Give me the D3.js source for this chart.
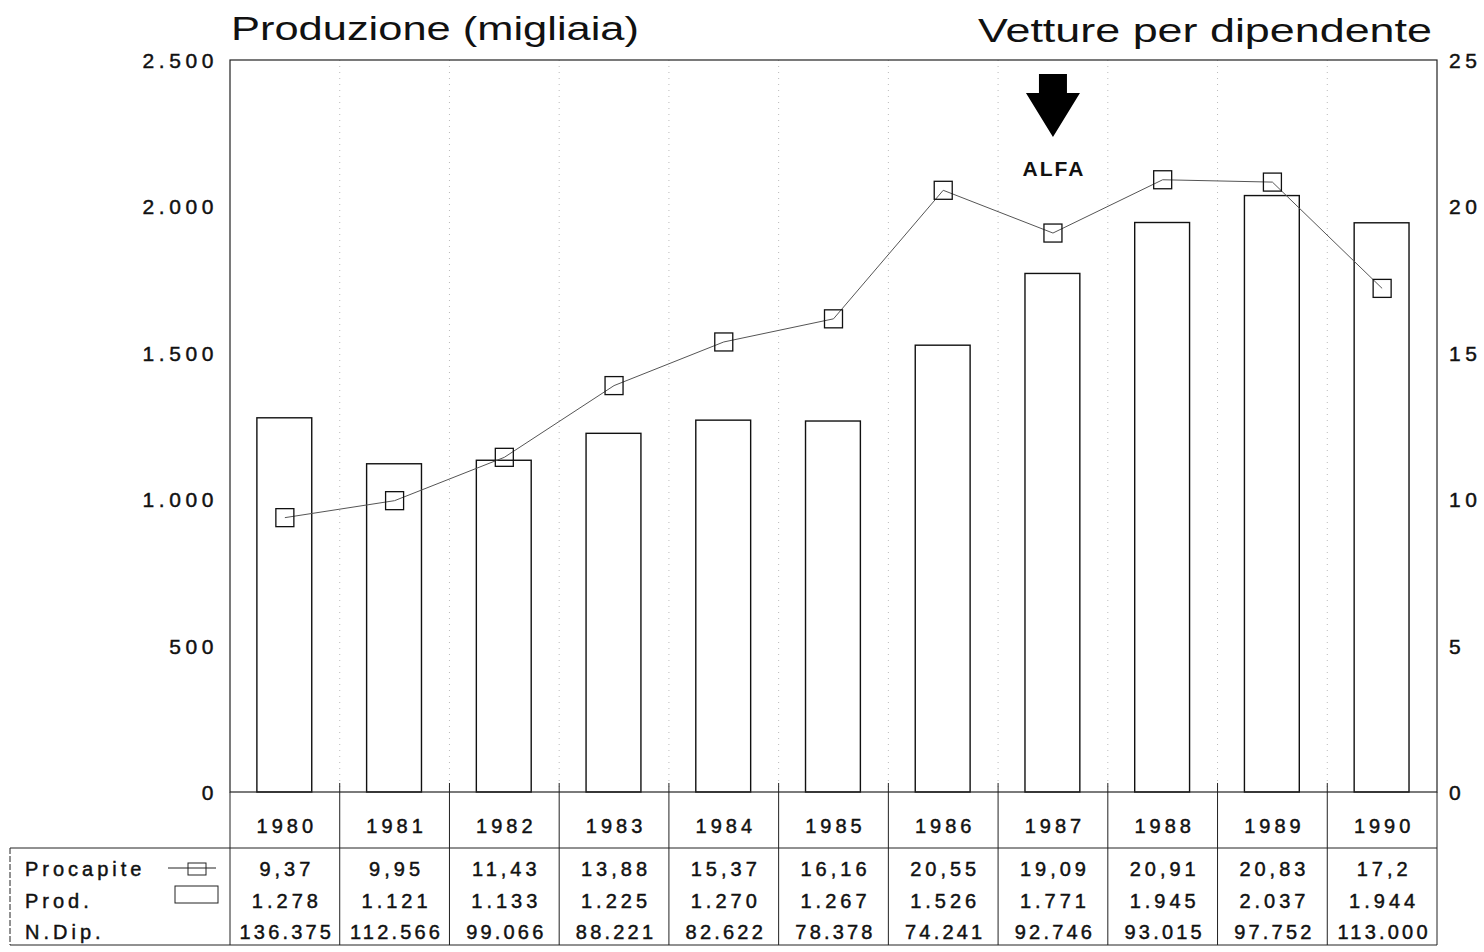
<!DOCTYPE html>
<html>
<head>
<meta charset="utf-8">
<script src="https://cdn.jsdelivr.net/npm/d3@7"></script>
<style>
  body { margin: 0; background: #fff; }
  text { font-family: "Liberation Sans", Arial, sans-serif; fill: #111; }
  .num { stroke: #111; stroke-width: 0.45px; }
</style>
</head>
<body>
<div id="chart"></div>
<script>
const WIDTH = 1484;
const HEIGHT = 952;
const MARGIN = { TOP: 60, BOTTOM: 160, LEFT: 230, RIGHT: 47 };

// dati
const anni = ['1980','1981','1982','1983','1984','1985','1986','1987','1988','1989','1990'];
const procapite = [9.37, 9.95, 11.43, 13.88, 15.37, 16.16, 20.55, 19.09, 20.91, 20.83, 17.2];
const produzione = [1278, 1121, 1133, 1225, 1270, 1267, 1526, 1771, 1945, 2037, 1944];
const dipendenti = [136375, 112566, 99066, 88221, 82622, 78378, 74241, 92746, 93015, 97752, 113000];
const ticksSx = [0, 500, 1000, 1500, 2000, 2500];
const ticksDx = [0, 5, 10, 15, 20, 25];
const rowLabels = ['Procapite', 'Prod.', 'N.Dip.'];

const it = d3.formatLocale({ decimal: ',', thousands: '.', grouping: [3], currency: ['', ' €'] });
const fmtInt = it.format(',.0f');
const fmtDec = it.format('~f');

const plotW = WIDTH - MARGIN.LEFT - MARGIN.RIGHT;
const plotH = HEIGHT - MARGIN.TOP - MARGIN.BOTTOM;

const svg = d3.select('#chart').append('svg')
  .attr('width', WIDTH)
  .attr('height', HEIGHT);

const g = svg.append('g')
  .attr('transform', `translate(${MARGIN.LEFT}, ${MARGIN.TOP})`);

const x = d3.scaleBand().domain(anni).range([0, plotW]).paddingInner(0).paddingOuter(0);
const ySx = d3.scaleLinear().domain([0, 2500]).range([plotH, 0]);
const yDx = d3.scaleLinear().domain([0, 25]).range([plotH, 0]);

// titoli
svg.append('text')
  .attr('x', 231).attr('y', 40)
  .attr('textLength', 408).attr('lengthAdjust', 'spacingAndGlyphs')
  .style('font-size', '34px')
  .text('Produzione (migliaia)');

svg.append('text')
  .attr('x', 978).attr('y', 42)
  .attr('textLength', 454).attr('lengthAdjust', 'spacingAndGlyphs')
  .style('font-size', '34px')
  .text('Vetture per dipendente');

// griglia verticale tratteggiata
g.append('g').selectAll('line')
  .data(anni.slice(1))
  .join('line')
  .attr('x1', d => x(d)).attr('x2', d => x(d))
  .attr('y1', 0).attr('y2', plotH)
  .attr('stroke', '#bbb')
  .attr('stroke-width', 1)
  .attr('stroke-dasharray', '1,5');

// assi
const axisSx = d3.axisLeft(ySx).tickValues(ticksSx).tickFormat(fmtInt).tickSize(0).tickPadding(12);
const axisDx = d3.axisRight(yDx).tickValues(ticksDx).tickFormat(d => d).tickSize(0).tickPadding(12);

const gSx = g.append('g').call(axisSx);
const gDx = g.append('g').attr('transform', `translate(${plotW}, 0)`).call(axisDx);
[gSx, gDx].forEach(a => {
  a.select('.domain').remove();
  a.selectAll('text')
    .attr('class', 'num')
    .attr('dy', '0.36em')
    .style('font-size', '21px')
    .style('letter-spacing', '4.6px')
    .style('font-family', '"Liberation Sans", Arial, sans-serif')
    .attr('fill', '#111');
});

// barre
g.append('g').selectAll('rect')
  .data(produzione)
  .join('rect')
  .attr('x', (d, i) => x(anni[i]) + x.bandwidth() * 0.245)
  .attr('width', x.bandwidth() * 0.5)
  .attr('y', d => ySx(d))
  .attr('height', d => plotH - ySx(d))
  .attr('fill', '#fff')
  .attr('stroke', '#111')
  .attr('stroke-width', 1.4);

// cornice
g.append('rect')
  .attr('x', 0).attr('y', 0)
  .attr('width', plotW).attr('height', plotH)
  .attr('fill', 'none')
  .attr('stroke', '#222')
  .attr('stroke-width', 1.2);

// linea procapite
const line = d3.line()
  .x((d, i) => x(anni[i]) + x.bandwidth() / 2)
  .y(d => yDx(d));

g.append('path')
  .datum(procapite)
  .attr('d', line)
  .attr('fill', 'none')
  .attr('stroke', '#555')
  .attr('stroke-width', 1);

const MK = 18;
g.append('g').selectAll('rect')
  .data(procapite)
  .join('rect')
  .attr('x', (d, i) => x(anni[i]) + x.bandwidth() / 2 - MK / 2)
  .attr('y', d => yDx(d) - MK / 2)
  .attr('width', MK).attr('height', MK)
  .attr('fill', 'none')
  .attr('stroke', '#111')
  .attr('stroke-width', 1.3);

// freccia ALFA
const ax = x('1987') + x.bandwidth() / 2;
g.append('path')
  .attr('d', `M${ax - 14},14 H${ax + 14} V33 H${ax + 27} L${ax},77 L${ax - 27},33 H${ax - 14} Z`)
  .attr('fill', '#000');
g.append('text')
  .attr('x', ax + 1).attr('y', 116)
  .attr('text-anchor', 'middle')
  .style('font-size', '21px').style('font-weight', 'bold').style('letter-spacing', '2px')
  .text('ALFA');

// tabella
const tab = svg.append('g');
const yTop = MARGIN.TOP + plotH;   // 792
const yMid = 848;
const yBot = 945;
const tabLeft = 10;
const xR = MARGIN.LEFT + plotW;

// tacche in alto
tab.selectAll('line.tick')
  .data(anni.slice(1))
  .join('line')
  .attr('class', 'tick')
  .attr('x1', d => MARGIN.LEFT + x(d)).attr('x2', d => MARGIN.LEFT + x(d))
  .attr('y1', yTop - 9).attr('y2', yTop)
  .attr('stroke', '#222');

// verticali
tab.selectAll('line.col')
  .data(anni.concat(['end']))
  .join('line')
  .attr('class', 'col')
  .attr('x1', d => d === 'end' ? xR : MARGIN.LEFT + x(d))
  .attr('x2', d => d === 'end' ? xR : MARGIN.LEFT + x(d))
  .attr('y1', yTop).attr('y2', yBot)
  .attr('stroke', '#222').attr('stroke-width', 1);

tab.append('line')
  .attr('x1', tabLeft).attr('x2', tabLeft).attr('y1', yMid).attr('y2', yBot)
  .attr('stroke', '#222').attr('stroke-dasharray', '6,2');
tab.append('line')
  .attr('x1', tabLeft).attr('x2', xR).attr('y1', yMid).attr('y2', yMid)
  .attr('stroke', '#222');
tab.append('line')
  .attr('x1', tabLeft).attr('x2', xR).attr('y1', yBot).attr('y2', yBot)
  .attr('stroke', '#222');

const cellText = sel => sel
  .attr('class', 'num')
  .attr('text-anchor', 'middle')
  .attr('dx', '2px')
  .style('font-size', '20px')
  .style('letter-spacing', '4px');

tab.selectAll('text.anno')
  .data(anni).join('text')
  .call(cellText)
  .attr('x', d => MARGIN.LEFT + x(d) + x.bandwidth() / 2)
  .attr('y', 833)
  .text(d => d);

const righe = [
  { vals: procapite, fmt: fmtDec, y: 876 },
  { vals: produzione, fmt: fmtInt, y: 908 },
  { vals: dipendenti, fmt: fmtInt, y: 939 }
];

righe.forEach((r, ri) => {
  tab.append('g').selectAll('text')
    .data(r.vals).join('text')
    .call(cellText)
    .attr('x', (d, i) => MARGIN.LEFT + x(anni[i]) + x.bandwidth() / 2)
    .attr('y', r.y)
    .style('letter-spacing', ri === 2 ? '3.2px' : '4px')
    .text(d => r.fmt(d));

  tab.append('text')
    .attr('class', 'num')
    .attr('x', 25).attr('y', r.y)
    .style('font-size', '20px')
    .style('letter-spacing', '4px')
    .text(rowLabels[ri]);
});

// legenda
tab.append('line')
  .attr('x1', 168).attr('x2', 216).attr('y1', 868).attr('y2', 868)
  .attr('stroke', '#222');
tab.append('rect')
  .attr('x', 188).attr('y', 863).attr('width', 18).attr('height', 12)
  .attr('fill', 'none').attr('stroke', '#222');
tab.append('rect')
  .attr('x', 175).attr('y', 886).attr('width', 43).attr('height', 17)
  .attr('fill', 'none').attr('stroke', '#222');
</script>
</body>
</html>
